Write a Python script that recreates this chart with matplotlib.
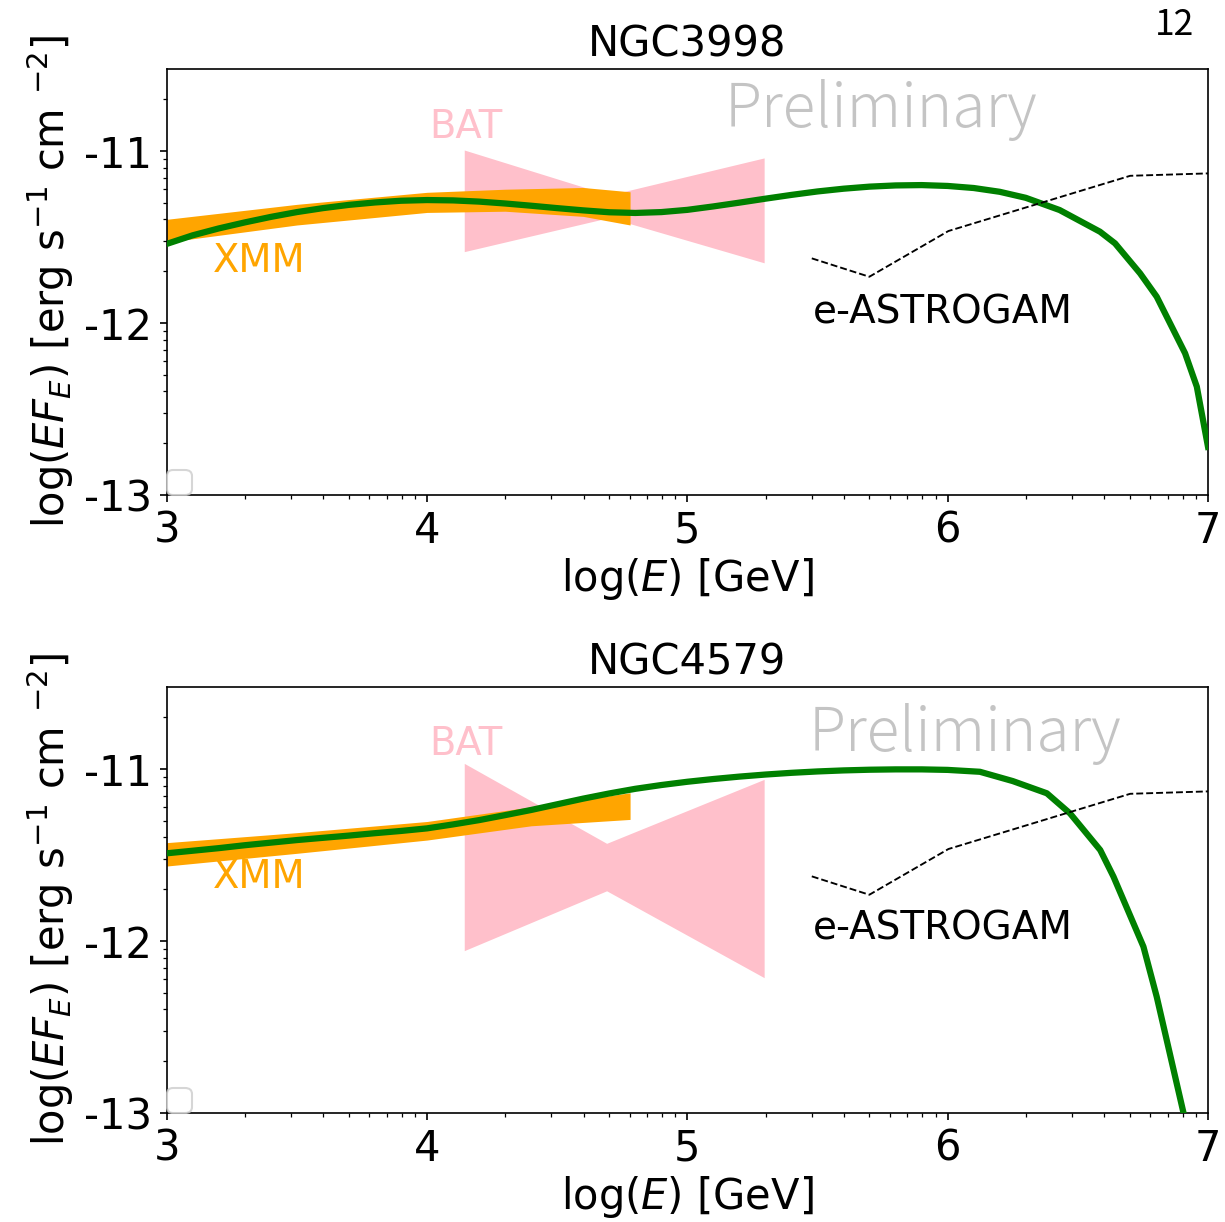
import numpy as np
import matplotlib
matplotlib.use("Agg")
import matplotlib.pyplot as plt
from matplotlib.ticker import FuncFormatter, NullFormatter

# ---------------- data (log10 E [GeV], log10 E F_E [erg s^-1 cm^-2]) ----------------
titles = ["NGC3998", "NGC4579"]

model1_logE = [3.0, 3.1, 3.2, 3.3, 3.4, 3.5, 3.6, 3.7, 3.8, 3.9, 4.0, 4.1, 4.2, 4.3, 4.4,
               4.5, 4.6, 4.7, 4.8, 4.9, 5.0, 5.1, 5.2, 5.3, 5.4, 5.5, 5.6, 5.7, 5.8, 5.9,
               6.0, 6.1, 6.2, 6.3, 6.43, 6.585, 6.643, 6.739, 6.803, 6.912, 6.957, 7.0]
model1_logF = [-11.54, -11.49, -11.45, -11.415, -11.383, -11.355, -11.332, -11.313, -11.299,
               -11.289, -11.285, -11.287, -11.294, -11.305, -11.318, -11.332, -11.345,
               -11.356, -11.36, -11.355, -11.342, -11.322, -11.30, -11.277, -11.255,
               -11.235, -11.219, -11.207, -11.200, -11.198, -11.203, -11.215, -11.237,
               -11.272, -11.343, -11.469, -11.537, -11.711, -11.847, -12.176, -12.370, -12.72]

model2_logE = [3.0, 3.1, 3.2, 3.3, 3.4, 3.5, 3.6, 3.7, 3.8, 3.9, 4.0, 4.1, 4.2, 4.3, 4.4,
               4.5, 4.6, 4.7, 4.8, 4.9, 5.0, 5.1, 5.2, 5.3, 5.4, 5.5, 5.6, 5.7, 5.8, 5.9,
               6.0, 6.124, 6.25, 6.381, 6.470, 6.586, 6.637, 6.752, 6.803, 6.906, 6.95]
model2_logF = [-11.49, -11.475, -11.46, -11.443, -11.428, -11.413, -11.40, -11.387, -11.373,
               -11.36, -11.345, -11.322, -11.297, -11.268, -11.238, -11.205, -11.172,
               -11.142, -11.115, -11.093, -11.074, -11.058, -11.044, -11.032, -11.022,
               -11.014, -11.008, -11.004, -11.002, -11.002, -11.005, -11.016, -11.07,
               -11.141, -11.258, -11.471, -11.626, -12.033, -12.324, -13.0, -13.3]

xmm1_logE = [3.0, 3.5, 4.0, 4.3, 4.6, 4.78]
xmm1_hi = [-11.397, -11.31, -11.24, -11.222, -11.212, -11.237]
xmm1_lo = [-11.53, -11.43, -11.357, -11.35, -11.38, -11.43]

xmm2_logE = [3.0, 3.5, 4.0, 4.4, 4.78]
xmm2_hi = [-11.428, -11.37, -11.305, -11.22, -11.138]
xmm2_lo = [-11.564, -11.49, -11.413, -11.33, -11.293]

bat1_logE = [4.143, 4.70, 5.295]
bat1_hi = [-10.994, -11.256, -11.04]
bat1_lo = [-11.585, -11.387, -11.65]

bat2_logE = [4.143, 4.69, 5.295]
bat2_hi = [-10.967, -11.432, -11.06]
bat2_lo = [-12.056, -11.708, -12.213]

eastro_logE = [5.478, 5.699, 6.003, 6.701, 7.0]
eastro_logF = [-11.624, -11.731, -11.465, -11.144, -11.13]

# ---------------- figure ----------------
W, H, DPI = 1225, 1222, 150
fig = plt.figure(figsize=(W / DPI, H / DPI), dpi=DPI)

left = 166.7 / W
width = (1208 - 166.7) / W
ax_h = 426 / H
ax_bottoms = [1 - 495 / H, 1 - 1113 / H]

panels = [
    dict(model=(model1_logE, model1_logF), xmm=(xmm1_logE, xmm1_lo, xmm1_hi),
         bat=(bat1_logE, bat1_lo, bat1_hi),
         bat_txt=(4.15, -10.923), xmm_txt=(3.179, -11.702), ea_txt=(5.484, -12.0),
         pre_txt=(5.744, -10.858)),
    dict(model=(model2_logE, model2_logF), xmm=(xmm2_logE, xmm2_lo, xmm2_hi),
         bat=(bat2_logE, bat2_lo, bat2_hi),
         bat_txt=(4.15, -10.919), xmm_txt=(3.179, -11.694), ea_txt=(5.484, -11.994),
         pre_txt=(6.067, -10.895)),
]

fmt = FuncFormatter(lambda v, p: "%d" % int(round(np.log10(v))))

for i, pnl in enumerate(panels):
    ax = fig.add_axes([left, ax_bottoms[i], width, ax_h])
    ax.set_xscale("log")
    ax.set_yscale("log")

    bx, blo, bhi = pnl["bat"]
    ax.fill_between(10 ** np.array(bx), 10 ** np.array(blo), 10 ** np.array(bhi),
                    color="pink", lw=0, zorder=1)
    xx, xlo, xhi = pnl["xmm"]
    ax.fill_between(10 ** np.array(xx), 10 ** np.array(xlo), 10 ** np.array(xhi),
                    color="orange", lw=0, zorder=2)
    mx, my = pnl["model"]
    ax.plot(10 ** np.array(mx), 10 ** np.array(my), color="green", lw=3, zorder=3,
            solid_joinstyle="round")
    ax.plot(10 ** np.array(eastro_logE), 10 ** np.array(eastro_logF), color="black",
            ls="--", lw=0.9, zorder=4)

    tx, ty = pnl["bat_txt"]
    ax.text(10 ** tx, 10 ** ty, "BAT", color="pink", fontsize=18.5, ha="center", va="baseline")
    tx, ty = pnl["xmm_txt"]
    ax.text(10 ** tx, 10 ** ty, "XMM", color="orange", fontsize=18.5, ha="left", va="baseline")
    tx, ty = pnl["ea_txt"]
    ax.text(10 ** tx, 10 ** ty, "e-ASTROGAM", color="black", fontsize=18.7, ha="left", va="baseline")
    tx, ty = pnl["pre_txt"]
    ax.text(10 ** tx, 10 ** ty, "Preliminary", color="#c4c4c4", fontsize=29, weight="light",
            family=["Noto Sans CJK JP", "DejaVu Sans"], ha="center", va="baseline")

    ax.set_xlim(1e3, 1e7)
    ax.set_ylim(1e-13, 10 ** -10.523)
    ax.xaxis.set_major_formatter(fmt)
    ax.yaxis.set_major_formatter(fmt)
    ax.xaxis.set_minor_formatter(NullFormatter())
    ax.yaxis.set_minor_formatter(NullFormatter())
    ax.tick_params(labelsize=20)
    ax.set_title(titles[i], fontsize=20)
    ax.set_xlabel(r"log($E$) [GeV]", fontsize=20, labelpad=2)
    ax.set_ylabel(r"log($EF_E$) [erg s$^{-1}$ cm $^{-2}$]", fontsize=20)
    ax.legend(handles=[], loc="lower left", borderaxespad=0, fontsize=15)

fig.text(1174 / W, 1 - 35 / H, "12", fontsize=17, family=["Noto Sans CJK JP", "DejaVu Sans"],
         ha="center", va="baseline")

fig.savefig("out.png", dpi=DPI)
